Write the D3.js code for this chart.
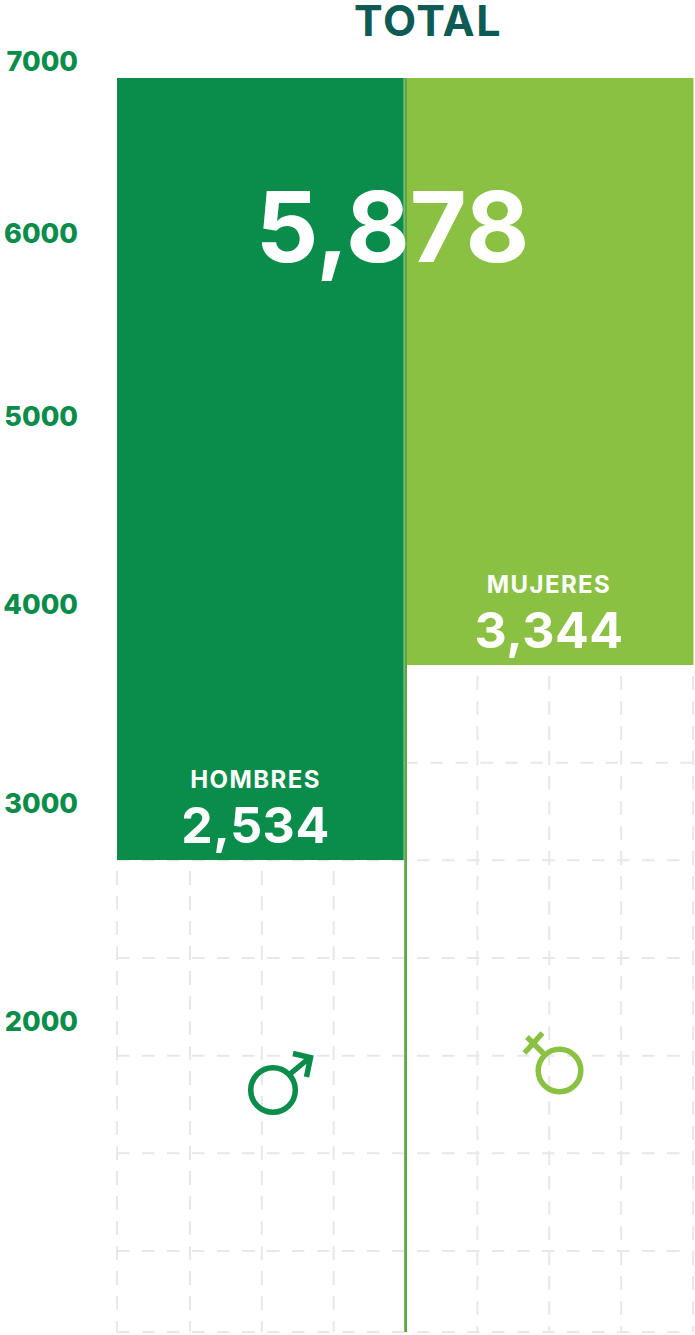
<!DOCTYPE html>
<html>
<head>
<meta charset="utf-8">
<script src="https://cdn.jsdelivr.net/npm/d3@7"></script>
<style>
  html, body { margin: 0; padding: 0; background: #fff; }
  svg { display: block; }
  text { font-family: Inter, sans-serif; }
</style>
</head>
<body>
<svg></svg>
<script>
const categories = ['HOMBRES', 'MUJERES'];
const values = [2534, 3344];
const total = 5878;
const axisTicks = [7000, 6000, 5000, 4000, 3000, 2000];
const colors = ['#0a8c4a', '#8bc142'];

const svgWidth = 695;
const svgHeight = 1335;
const bottom = 1332;

const svg = d3.select('svg')
    .attr('width', svgWidth)
    .attr('height', svgHeight);

const xScale = d3.scaleBand()
    .domain(categories)
    .range([117, 693.5])
    .paddingInner(0.0105);

// the labels are not quite centred on their bars in the original
const labelX = d3.scaleOrdinal()
    .domain(categories)
    .range([255.5, 549]);

// the bars hang from the top and the picture's scale is not quite linear
const yScale = d3.scaleLinear()
    .domain([2534, 3344, 5878])
    .range([860, 665, 78]);

// the axis labels are unevenly spaced in the original
const axisScale = d3.scaleLinear()
    .domain(axisTicks)
    .range([62, 234, 417, 605, 804, 1022]);

// grid: 8 columns over both panels, rows every 97.7px under the right bar
const gridX = d3.scaleLinear().domain([0, 1, 4, 8]).range([117, 190, 405.5, 693]);
const gridY = d3.scaleLinear().domain([0, 6]).range([665, 1251]);

const grid = svg.append('g')
    .attr('fill', 'none')
    .attr('stroke', '#e8e8e8')
    .attr('stroke-width', 2);

d3.range(0, 9).forEach(i => {
    const start = i < 4 ? 860 : 665;
    grid.append('line')
        .attr('x1', gridX(i))
        .attr('x2', gridX(i))
        .attr('y1', start + 11)
        .attr('y2', bottom)
        .attr('stroke-dasharray', '14 11');
});

d3.range(1, 8).forEach(i => {
    const y = i === 7 ? bottom : gridY(i);
    grid.append('line')
        .attr('x1', y < 860 ? gridX(4) : gridX(0))
        .attr('x2', gridX(8))
        .attr('y1', y)
        .attr('y2', y)
        .attr('stroke-dasharray', '12.5 12.5');
});

svg.selectAll('.bar')
    .data(categories)
    .enter().append('rect')
    .attr('class', 'bar')
    .attr('x', d => xScale(d))
    .attr('y', yScale(total))
    .attr('width', xScale.bandwidth())
    .attr('height', (d, i) => yScale(values[i]) - yScale(total))
    .attr('fill', (d, i) => colors[i]);

svg.append('rect')
    .attr('x', 404.2)
    .attr('y', yScale(total))
    .attr('width', 2.8)
    .attr('height', bottom - yScale(total))
    .attr('fill', '#5aa846');

const axis = svg.append('g')
    .attr('transform', 'translate(78, 0)')
    .call(d3.axisLeft(axisScale).tickValues(axisTicks).tickSize(0).tickPadding(0).tickFormat(d => d));
axis.select('.domain').remove();
axis.selectAll('text')
    .attr('font-size', 27)
    .attr('font-weight', 800)
    .attr('fill', colors[0])
    .style('font-family', 'Inter, sans-serif');

svg.append('text')
    .attr('x', 428)
    .attr('y', 36)
    .attr('text-anchor', 'middle')
    .attr('font-size', 43)
    .attr('font-weight', 700)
    .attr('letter-spacing', 1.5)
    .attr('fill', '#0e5a54')
    .text('TOTAL');

svg.append('text')
    .attr('x', 392.5)
    .attr('y', 262)
    .attr('text-anchor', 'middle')
    .attr('font-size', 98)
    .attr('font-weight', 700)
    .attr('fill', '#fff')
    .text(d3.format(',')(total));

svg.selectAll('.catLabel')
    .data(categories)
    .enter().append('text')
    .attr('class', 'catLabel')
    .attr('x', d => labelX(d))
    .attr('y', (d, i) => yScale(values[i]) - 72)
    .attr('text-anchor', 'middle')
    .attr('font-size', 24)
    .attr('font-weight', 700)
    .attr('letter-spacing', 1.4)
    .attr('fill', '#fff')
    .text(d => d);

svg.selectAll('.valueLabel')
    .data(values)
    .enter().append('text')
    .attr('class', 'valueLabel')
    .attr('x', (d, i) => labelX(categories[i]))
    .attr('y', d => yScale(d) - 17)
    .attr('text-anchor', 'middle')
    .attr('font-size', 50)
    .attr('font-weight', 700)
    .attr('letter-spacing', 0.5)
    .attr('fill', '#fff')
    .text(d => d3.format(',')(d));

// gender symbols
const male = svg.append('g')
    .attr('fill', 'none')
    .attr('stroke', colors[0])
    .attr('stroke-width', 5.5);
male.append('circle').attr('cx', 273).attr('cy', 1090).attr('r', 22.3);
male.append('path').attr('d', 'M290,1074L310.5,1057M293,1053.5L310.5,1057.5L306.5,1077');

const female = svg.append('g')
    .attr('fill', 'none')
    .attr('stroke', colors[1])
    .attr('stroke-width', 5.5);
female.append('circle').attr('cx', 559.5).attr('cy', 1070.5).attr('r', 21.3);
female.append('path').attr('d', 'M544,1054L527,1037M524.5,1053L542.5,1033');
</script>
</body>
</html>
